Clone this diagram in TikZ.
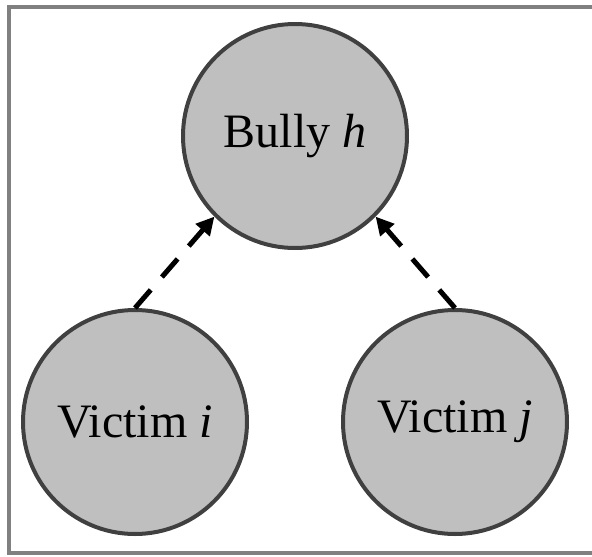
\documentclass[tikz,border=0pt]{standalone}
\usepackage{fontspec}
\setmainfont{Liberation Serif}
\usetikzlibrary{positioning, arrows.meta}
\definecolor{frameGray}{HTML}{808080}
\definecolor{nodeFill}{HTML}{BFBFBF}
\definecolor{nodeRim}{HTML}{404040}

\begin{document}
\begin{tikzpicture}[x=1pt, y=-1pt, agent/.style={circle, draw=nodeRim, fill=nodeFill, line width=4pt, minimum size=224pt, inner sep=0pt, font=\fontsize{48}{56}\selectfont},link/.style={-{Triangle[length=18pt, width=18pt]}, line width=5pt, dash pattern=on 24pt off 17pt}]
\useasboundingbox (0,0) rectangle (592,557);
\draw[frameGray, line width=4pt] (9,7) rectangle (600,553);
\node[agent] (bully) at (295,136) {Bully \textit{h}};
\node[agent] (victimI) at (135,422) {Victim \textit{i}};
\node[agent] (victimJ) at (455,422) {Victim \textit{j}};
\draw[link] (victimI.north) -- (bully.225);
\draw[link] (victimJ.north) -- (bully.315);
\end{tikzpicture}
\end{document}
